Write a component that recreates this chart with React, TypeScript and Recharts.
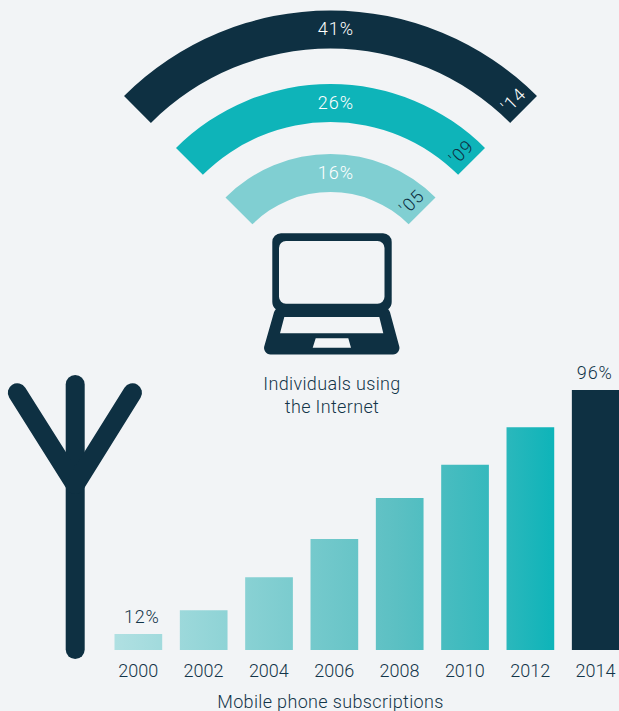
import { Bar, BarChart, Cell, LabelList, Pie, PieChart, XAxis, YAxis } from 'recharts'

// Individuals using the Internet
const internetYears = ["'14", "'09", "'05"]
const internetShares = [41, 26, 16]

// Mobile phone subscriptions
const subscriptionYears = ['2000', '2002', '2004', '2006', '2008', '2010', '2012', '2014']
const subscriptionShares = [12, 20.2, 31.5, 44.7, 58.8, 70.3, 83.2, 96]

const DARK = '#0e3042'
const TEAL = '#0eb4b9'
const PALE = '#80cfd2'
const INK = '#123549'
const BACKGROUND = '#f2f4f6'
const FONT = 'Roboto, sans-serif'

const CENTER_X = 330.5
const CENTER_Y = 302.5

const rings = [
  { fill: DARK, yearFill: '#ffffff', inner: 254, outer: 292 },
  { fill: TEAL, yearFill: DARK, inner: 180.5, outer: 218.5 },
  { fill: PALE, yearFill: DARK, inner: 110.5, outer: 148.5 },
]

const barData = subscriptionYears.map((year, i) => ({ year, value: subscriptionShares[i] }))

function ringLabel(year: string) {
  return (props: any) => {
    const { cx, cy, innerRadius, outerRadius, value } = props
    const mid = (innerRadius + outerRadius) / 2
    // year sits near the right end of the arc, reading outwards
    const angle = Math.PI / 4 + 14 / mid
    const yearX = cx + mid * Math.cos(angle)
    const yearY = cy - mid * Math.sin(angle)
    const ring = rings.find((r) => r.outer === outerRadius)
    return (
      <g fontFamily={FONT} fontSize={18} fontWeight={300}>
        <text x={cx + 5.5} y={cy - mid - 1} fill="#ffffff" textAnchor="middle" dominantBaseline="central" letterSpacing={1}>
          {value}%
        </text>
        <text
          x={yearX}
          y={yearY}
          fill={ring?.yearFill}
          textAnchor="middle"
          dominantBaseline="central"
          letterSpacing={1}
          transform={`rotate(-45 ${yearX} ${yearY})`}
        >
          {year}
        </text>
      </g>
    )
  }
}

function BarValueLabel(props: any) {
  const { x, y, width, index, value } = props
  // only the first and last bars carry a value
  if (index !== 0 && index !== barData.length - 1) return null
  const dx = index === 0 ? 3.5 : -1
  return (
    <text x={x + width / 2 + dx} y={y - 11} fill={INK} fontFamily={FONT} fontWeight={300} fontSize={18} textAnchor="middle" letterSpacing={0.8}>
      {value}%
    </text>
  )
}

function Icons() {
  return (
    <svg width={619} height={711} style={{ position: 'absolute', left: 0, top: 0 }}>
      <path
        fillRule="evenodd"
        fill={DARK}
        d="M281 233.3H383a8.7 8.7 0 0 1 8.7 8.7V302a9 9 0 0 1-3.5 7.2a7 7 0 0 1 1.8 3L399 345.5a6.5 6.5 0 0 1-6 8.9H270.5a6.5 6.5 0 0 1-6-8.9L274 312.2a7 7 0 0 1 1.8-3a9 9 0 0 1-3.5-7.2V242a8.7 8.7 0 0 1 8.7-8.7Z
           M286 241H377.5a7 7 0 0 1 7 7V296.7a7 7 0 0 1-7 7H286a7 7 0 0 1-7-7V248a7 7 0 0 1 7-7Z
           M284.3 317H379.3L383.3 333.3H280Z
           M315.7 338.3H348.3L351 347.7H312.7Z"
      />
      <g stroke={DARK} strokeWidth={19} strokeLinecap="round" fill="none">
        <path d="M75.2 384.5V649.5" />
        <path d="M17.3 392.7L75.2 484.6" />
        <path d="M132.5 392.7L75.2 484.6" />
      </g>
      <g fill={INK} fontFamily={FONT} fontWeight={300} fontSize={18} textAnchor="middle" letterSpacing={0.35}>
        <text x={332} y={390}>Individuals using</text>
        <text x={332} y={413}>the Internet</text>
        <text x={330.5} y={708}>Mobile phone subscriptions</text>
      </g>
    </svg>
  )
}

export default function App() {
  return (
    <div style={{ position: 'absolute', left: 0, top: 0, width: 619, height: 711, overflow: 'hidden', background: BACKGROUND }}>
      <Icons />
      <div style={{ position: 'absolute', left: 0, top: 0 }}>
        <PieChart width={619} height={360} margin={{ top: 0, right: 0, bottom: 0, left: 0 }}>
          {rings.map((ring, i) => (
            <Pie
              key={internetYears[i]}
              data={[{ name: internetYears[i], value: internetShares[i] }]}
              dataKey="value"
              cx={CENTER_X}
              cy={CENTER_Y}
              startAngle={135}
              endAngle={45}
              innerRadius={ring.inner}
              outerRadius={ring.outer}
              fill={ring.fill}
              stroke="none"
              label={ringLabel(internetYears[i])}
              labelLine={false}
              isAnimationActive={false}
            />
          ))}
        </PieChart>
      </div>
      <div style={{ position: 'absolute', left: 0, top: 0 }}>
        <BarChart
          width={640}
          height={711}
          data={barData}
          margin={{ top: 390, right: 11.8, bottom: 0, left: 105.5 }}
          barSize={47.7}
        >
          <defs>
            <linearGradient id="barFade" gradientUnits="userSpaceOnUse" x1={114} y1={0} x2={554} y2={0}>
              <stop offset="0%" stopColor="#b0e0e2" />
              <stop offset="64%" stopColor="#5cc0c3" />
              <stop offset="85%" stopColor="#36b9bd" />
              <stop offset="100%" stopColor={TEAL} />
            </linearGradient>
          </defs>
          <XAxis
            dataKey="year"
            height={61}
            axisLine={false}
            tickLine={false}
            interval={0}
            tick={{ fill: INK, fontFamily: FONT, fontWeight: 300, fontSize: 18 }}
            tickMargin={8}
          />
          <YAxis hide domain={[6.5, 96]} />
          <Bar dataKey="value" isAnimationActive={false}>
            {barData.map((d, i) => (
              <Cell key={d.year} fill={i === barData.length - 1 ? DARK : 'url(#barFade)'} />
            ))}
            <LabelList dataKey="value" content={BarValueLabel} />
          </Bar>
        </BarChart>
      </div>
    </div>
  )
}
